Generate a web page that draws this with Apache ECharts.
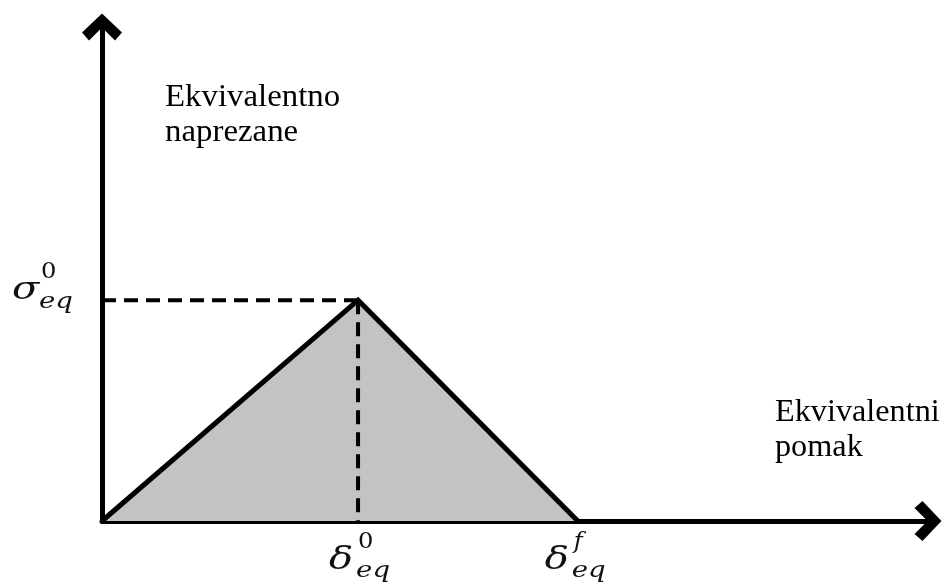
<!DOCTYPE html>
<html>
<head>
<meta charset="utf-8">
<script src="https://cdn.jsdelivr.net/npm/echarts@6/dist/echarts.min.js"></script>
<style>
  html, body { margin: 0; padding: 0; background: #fff; }
  #main { width: 945px; height: 585px; }
</style>
</head>
<body>
<div id="main"></div>
<script>
// key points of the diagram (abstract units, axes run 0..10)
const peakX = 3.1   // delta_eq^0
const peakY = 4.47  // sigma_eq^0
const failX = 5.76  // delta_eq^f
const triangle = [[0, 0], [peakX, peakY], [failX, 0]]
const dashH = [[0, peakY], [peakX, peakY]]
const dashV = [[peakX, peakY], [peakX, 0]]
const yTitle = ['Ekvivalentno', 'naprezane']
const xTitle = ['Ekvivalentni', 'pomak']

const chevron = 'path://M20,0 L40,19 L33,27 L20,14 L7,27 L0,19 Z'
const mathFont = '"DejaVu Serif", "Liberation Serif", serif'
const textFont = '"Liberation Serif", "Times New Roman", serif'

const chart = echarts.init(document.getElementById('main'))

const axisCommon = {
  type: 'value',
  min: 0,
  max: 10,
  axisLine: {
    show: true,
    onZero: false,
    symbol: ['none', chevron],
    symbolSize: [40, 27],
    lineStyle: { color: '#000', width: 5 },
  },
  axisTick: { show: false },
  axisLabel: { show: false },
  splitLine: { show: false },
}

chart.setOption({
  animation: false,
  grid: { left: 102, right: 17, top: 27, bottom: 64 },
  xAxis: axisCommon,
  yAxis: axisCommon,
  series: [
    {
      // grey filled area under the curve
      type: 'line',
      data: triangle,
      showSymbol: false,
      lineStyle: { width: 0 },
      areaStyle: { color: '#c3c3c3', opacity: 1 },
      z: 1,
    },
    {
      type: 'line',
      data: dashH,
      showSymbol: false,
      lineStyle: { color: '#000', width: 4, type: [14, 8] },
      z: 2,
    },
    {
      type: 'line',
      data: dashV,
      showSymbol: false,
      lineStyle: { color: '#000', width: 4, type: [14, 8] },
      z: 2,
    },
    {
      type: 'line',
      data: triangle,
      showSymbol: false,
      lineStyle: { color: '#000', width: 5, join: 'miter' },
      z: 3,
    },
  ],
})

// labels placed from the axis scales
const pSig = chart.convertToPixel({ gridIndex: 0 }, [0, peakY])
const pD0 = chart.convertToPixel({ gridIndex: 0 }, [peakX, 0])
const pDf = chart.convertToPixel({ gridIndex: 0 }, [failX, 0])

function mathLabel(x, y, main, sup) {
  // main symbol, superscript above and "eq" subscript below
  return [
    { type: 'text', x: x, y: y, scaleX: 1.25, style: { text: main, font: 'italic 32px ' + mathFont, fill: '#111', verticalAlign: 'bottom' } },
    { type: 'text', x: x + 29, y: y - 24, scaleX: 1.1, style: { text: sup, font: (sup === 'f' ? 'italic ' : '') + '22px ' + mathFont, fill: '#111', verticalAlign: 'bottom' } },
    { type: 'text', x: x + 27, y: y + 6, scaleX: 1.2, style: { text: 'eq', font: 'italic 23px ' + mathFont, fill: '#111', verticalAlign: 'bottom' } },
  ]
}

let elements = []
elements = elements.concat(mathLabel(pSig[0] - 90, pSig[1] + 7, 'σ', '0'))
elements = elements.concat(mathLabel(pD0[0] - 29, pD0[1] + 56, 'δ', '0'))
elements = elements.concat(mathLabel(pDf[0] - 33, pDf[1] + 56, 'δ', 'f'))

elements.push({
  type: 'text', left: 165, top: 80, scaleX: 1.06,
  style: { text: yTitle.join('\n'), font: '31px ' + textFont, lineHeight: 35, fill: '#000' },
})
elements.push({
  type: 'text', left: 775, top: 395, scaleX: 1.04,
  style: { text: xTitle.join('\n'), font: '31px ' + textFont, lineHeight: 35, fill: '#000' },
})

chart.setOption({ graphic: { elements: elements } })
</script>
</body>
</html>
